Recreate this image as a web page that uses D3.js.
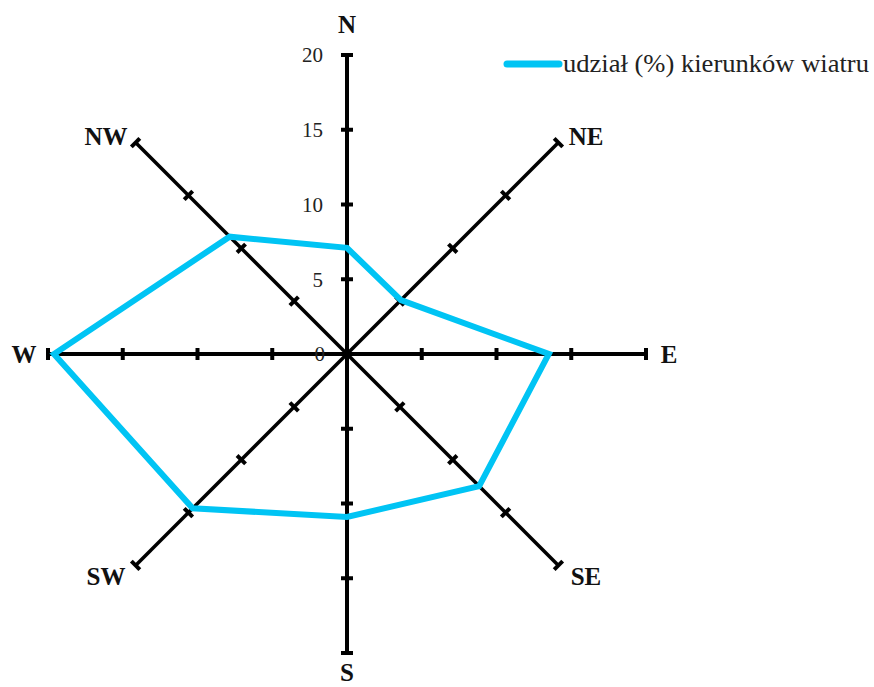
<!DOCTYPE html>
<html>
<head>
<meta charset="utf-8">
<script src="https://cdn.jsdelivr.net/npm/d3@7"></script>
<style>
  body { margin: 0; background: #fff; }
</style>
</head>
<body>
<script>
// wind directions and share (%)
var directions = ["N", "NE", "E", "SE", "S", "SW", "W", "NW"];
var values = [7.1, 5.1, 13.5, 12.5, 10.9, 14.6, 19.6, 11.1];
var tickValues = [5, 10, 15, 20];
var tickLabels = ["0", "5", "10", "15", "20"];
var seriesName = "udział (%) kierunków wiatru";

var svgWidth = 874;
var svgHeight = 687;
var cx = 347, cy = 354;
var serif = "'Liberation Serif', 'Times New Roman', 'DejaVu Serif', serif";

var svg = d3.select("body").append("svg")
  .attr("width", svgWidth)
  .attr("height", svgHeight);

var chartGroup = svg.append("g")
  .attr("transform", `translate(${cx}, ${cy})`);

var rScale = d3.scaleLinear().domain([0, 20]).range([0, 299]);
var angle = d3.scalePoint().domain(directions).range([0, 315]);

function pt(dir, r) {
  var a = angle(dir) * Math.PI / 180;
  return [Math.sin(a) * r, -Math.cos(a) * r];
}

// axes
directions.forEach(function(dir) {
  var main = ["N", "E", "S", "W"].indexOf(dir) >= 0;
  var end = pt(dir, rScale(20));
  chartGroup.append("line")
    .attr("x1", 0).attr("y1", 0)
    .attr("x2", end[0]).attr("y2", end[1])
    .attr("stroke", "#000")
    .attr("stroke-width", main ? 4 : 3.5);

  // tick caps
  var a = angle(dir) * Math.PI / 180;
  var px = Math.cos(a), py = Math.sin(a);
  tickValues.forEach(function(t) {
    var p = pt(dir, rScale(t));
    var half = 6;
    chartGroup.append("line")
      .attr("x1", p[0] - px * half).attr("y1", p[1] - py * half)
      .attr("x2", p[0] + px * half).attr("y2", p[1] + py * half)
      .attr("stroke", "#000")
      .attr("stroke-width", 4);
  });
});

// tick labels on the N axis
[0].concat(tickValues).forEach(function(t, i) {
  chartGroup.append("text")
    .attr("x", i === 0 ? -22 : -24)
    .attr("y", -rScale(t))
    .attr("dy", "0.35em")
    .attr("text-anchor", "end")
    .style("font-family", serif)
    .style("font-size", "21px")
    .attr("fill", "#222")
    .text(tickLabels[i]);
});

// direction labels
var labelPos = {
  N: [0, -330], NE: [239, -218], E: [322, 0], SE: [239, 222],
  S: [0, 318], SW: [-241, 222], W: [-323, 0], NW: [-241, -218]
};
directions.forEach(function(dir) {
  chartGroup.append("text")
    .attr("x", labelPos[dir][0])
    .attr("y", labelPos[dir][1])
    .attr("dy", "0.35em")
    .attr("text-anchor", "middle")
    .style("font-family", serif)
    .style("font-size", "25px")
    .style("font-weight", "bold")
    .attr("fill", "#111")
    .text(dir);
});

// data polygon
var line = d3.line().curve(d3.curveLinearClosed);
chartGroup.append("path")
  .attr("d", line(directions.map(function(d, i) { return pt(d, rScale(values[i])); })))
  .attr("fill", "none")
  .attr("stroke", "#00C4F4")
  .attr("stroke-width", 6)
  .attr("stroke-linejoin", "miter");

// legend
svg.append("line")
  .attr("x1", 507).attr("y1", 64)
  .attr("x2", 559).attr("y2", 64)
  .attr("stroke", "#00C4F4")
  .attr("stroke-width", 7)
  .attr("stroke-linecap", "round");

svg.append("text")
  .attr("x", 563)
  .attr("y", 72)
  .style("font-family", serif)
  .style("font-size", "25px")
  .attr("fill", "#222")
  .attr("textLength", 306)
  .attr("lengthAdjust", "spacingAndGlyphs")
  .text(seriesName);
</script>
</body>
</html>
